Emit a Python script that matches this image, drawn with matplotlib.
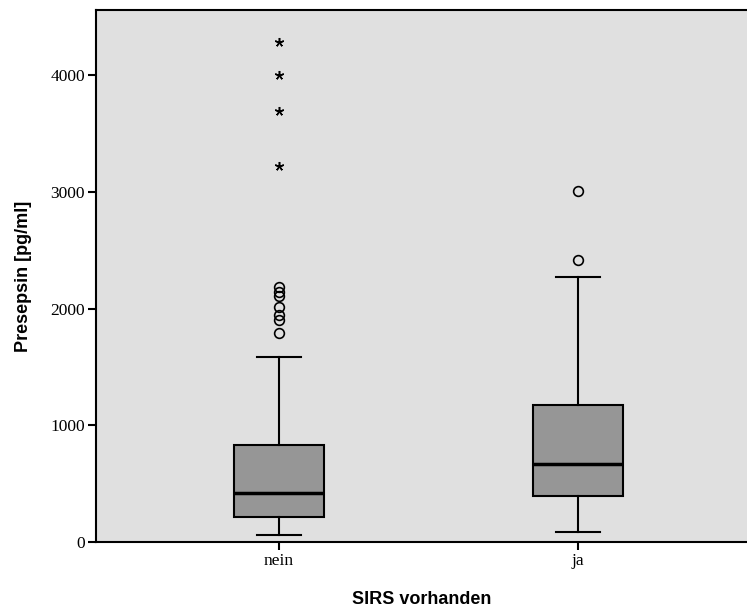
import numpy as np
import matplotlib.pyplot as plt

# Presepsin by SIRS status: box statistics and outliers per group
groups = ["nein", "ja"]
whisker_low = [60, 83]
q1 = [214, 394]
median = [420, 671]
q3 = [831, 1171]
whisker_high = [1585, 2267]
outliers = [
    [2187, 2144, 2107, 2015, 1944, 1901, 1793],
    [3009, 2415],
]
extremes = [
    [4285, 4000, 3694, 3220],
    [],
]

stats = []
for i, g in enumerate(groups):
    stats.append({
        "label": g,
        "whislo": whisker_low[i],
        "q1": q1[i],
        "med": median[i],
        "q3": q3[i],
        "whishi": whisker_high[i],
        "fliers": outliers[i],
    })

fig = plt.figure(figsize=(7.47, 6.10), dpi=100)
ax = fig.add_axes([96 / 747, 68 / 610, 651 / 747, 532 / 610])
ax.set_facecolor("#e0e0e0")

positions = [1, 2]
ax.bxp(stats, positions=positions, widths=0.304, patch_artist=True,
       boxprops=dict(facecolor="#969696", edgecolor="black", linewidth=1.5),
       medianprops=dict(color="black", linewidth=2.5),
       whiskerprops=dict(color="black", linewidth=1.5),
       capprops=dict(color="black", linewidth=1.5),
       capwidths=0.15,
       flierprops=dict(marker="o", markerfacecolor="none", markeredgecolor="black",
                       markersize=7, markeredgewidth=1.2))

# extreme values drawn as asterisks
for pos, ext in zip(positions, extremes):
    if ext:
        ax.plot([pos] * len(ext), ext, linestyle="none", marker=(5, 2, 0),
                markersize=6.5, color="black", markeredgewidth=1.1)

ax.set_xlim(0.388, 2.565)
ax.set_ylim(0, 4557)
ax.set_yticks([0, 1000, 2000, 3000, 4000])
ax.set_xticks(positions)
ax.set_xticklabels(groups)

for side in ["left", "bottom", "top"]:
    ax.spines[side].set_linewidth(1.5)
ax.spines["right"].set_visible(False)

ax.tick_params(axis="both", direction="out", length=6, width=1.5,
               labelsize=12.5, pad=2)
for lab in ax.get_xticklabels() + ax.get_yticklabels():
    lab.set_family("Liberation Serif")

ax.set_ylabel("Presepsin [pg/ml]", family="Liberation Sans", fontweight="bold",
              fontsize=13, labelpad=13)
ax.set_xlabel("SIRS vorhanden", family="Liberation Sans", fontweight="bold",
              fontsize=13, labelpad=16)

fig.savefig("out.png", dpi=100)
